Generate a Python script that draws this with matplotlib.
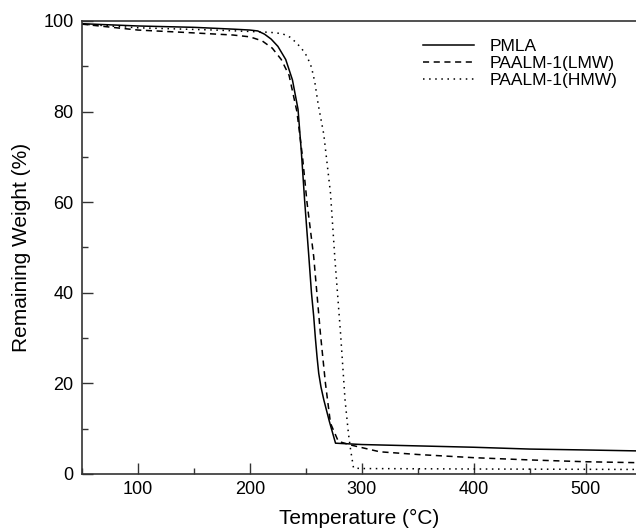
import matplotlib.pyplot as plt
from matplotlib.ticker import MultipleLocator

plt.rcParams['font.family'] = ['Liberation Sans', 'DejaVu Sans']

# TGA curves
t_pmla = [50, 100, 150, 185, 200, 207, 213, 219, 225, 232, 238, 243, 246, 249, 252.5,
          255, 257, 258.5, 260, 261.5, 263.5, 266, 271, 276.5, 300, 350, 400, 450, 500, 545]
w_pmla = [99.4, 98.9, 98.6, 98.2, 98.0, 97.8, 97.1, 96.0, 94.4, 91.5, 87, 80.5, 71, 60, 48.5,
          40, 34.8, 30, 25.8, 22.2, 19.2, 16.4, 11.6, 6.8, 6.5, 6.2, 5.9, 5.5, 5.3, 5.1]

t_lmw = [50, 100, 140, 185, 200, 211, 220, 228, 235, 242, 247, 251, 257, 263,
         267.5, 272, 279, 290, 316, 350, 400, 450, 500, 545]
w_lmw = [99.3, 98.0, 97.5, 96.9, 96.5, 95.6, 94, 91.5, 88, 80, 70, 60, 48, 31,
         20, 11.2, 7.2, 6.4, 4.9, 4.3, 3.6, 3.1, 2.7, 2.5]

t_hmw = [50, 100, 169, 218, 229, 236, 241, 246, 251, 255, 258, 261, 266, 272, 276, 281,
         285, 288, 290, 292.6, 300, 400, 545]
w_hmw = [99.3, 98.5, 98.0, 97.5, 97.2, 96.4, 95.3, 94, 92.2, 89.8, 86.5, 81.6, 75, 62, 47.3, 31,
         16.4, 9, 5.3, 1.3, 1.2, 1.1, 1.0]

fig = plt.figure(figsize=(6.36, 5.3), dpi=100)
ax = fig.add_axes([0.129, 0.1057, 0.871, 0.8547])

ax.plot(t_pmla, w_pmla, color='black', lw=1.1, linestyle='-', label='PMLA')
ax.plot(t_lmw, w_lmw, color='black', lw=1.1, linestyle=(0, (4, 3)), label='PAALM-1(LMW)')
ax.plot(t_hmw, w_hmw, color='black', lw=1.1, linestyle=(0, (1, 3)), label='PAALM-1(HMW)')

ax.set_xlim(50, 545)
ax.set_ylim(0, 100)
ax.xaxis.set_major_locator(MultipleLocator(100))
ax.xaxis.set_minor_locator(MultipleLocator(50))
ax.yaxis.set_major_locator(MultipleLocator(20))
ax.yaxis.set_minor_locator(MultipleLocator(10))
ax.tick_params(which='both', direction='in', labelsize=13, width=1, color='#333333')
ax.tick_params(which='major', length=8)
ax.tick_params(which='minor', length=4)
ax.tick_params(axis='x', pad=5)
ax.tick_params(axis='y', pad=6)
ax.spines['right'].set_visible(False)
for s in ['left', 'bottom', 'top']:
    ax.spines[s].set_linewidth(1.2)
    ax.spines[s].set_color('#333333')

ax.set_xlabel('Temperature (°C)', fontsize=15, labelpad=8)
ax.set_ylabel('Remaining Weight (%)', fontsize=15, labelpad=9)

ax.legend(loc='upper left', bbox_to_anchor=(0.588, 0.995), frameon=False,
          fontsize=12.5, handlelength=2.9, handletextpad=0.9, labelspacing=0.1)

fig.savefig('out.png', dpi=100)
